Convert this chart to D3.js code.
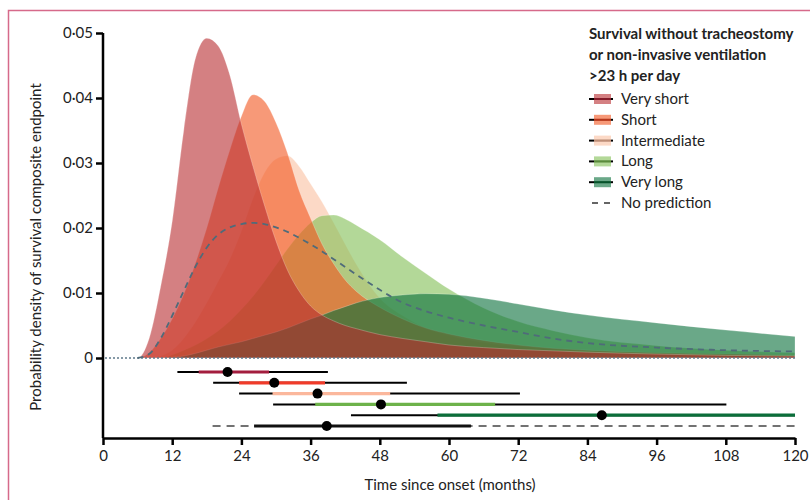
<!DOCTYPE html>
<html>
<head>
<meta charset="utf-8">
<script src="https://cdn.jsdelivr.net/npm/d3@7"></script>
<style>
  body { margin: 0; background: #fff; }
  text { font-family: Lato, "Open Sans", sans-serif; fill: #222; }
</style>
</head>
<body>
<div id="chart"></div>
<script>
var months = [0, 6, 8, 10, 12, 14, 16, 18, 20, 22, 24, 26, 28, 30, 32, 34, 36, 38, 40, 42, 44, 48, 52, 56, 60, 66, 72, 78, 84, 96, 108, 120];

var veryShort = [0, 0, 0.003, 0.011, 0.021, 0.035, 0.046, 0.0492, 0.048, 0.0435, 0.036, 0.0295, 0.0235, 0.018, 0.0135, 0.0103, 0.008, 0.0066, 0.0057, 0.005, 0.0045, 0.0036, 0.003, 0.0025, 0.002, 0.0016, 0.0013, 0.0011, 0.0009, 0.0006, 0.0004, 0.0003];
var short = [0, 0, 0.0008, 0.003, 0.006, 0.0098, 0.0145, 0.02, 0.0262, 0.032, 0.0372, 0.0405, 0.0395, 0.0362, 0.0315, 0.0258, 0.0215, 0.0175, 0.0145, 0.012, 0.0102, 0.0078, 0.006, 0.0046, 0.0037, 0.0027, 0.002, 0.0015, 0.0012, 0.0008, 0.0006, 0.0004];
var intermediate = [0, 0, 0, 0.0003, 0.0012, 0.003, 0.0055, 0.0085, 0.0118, 0.0152, 0.0195, 0.0245, 0.0285, 0.0306, 0.0311, 0.0295, 0.0268, 0.024, 0.0208, 0.0175, 0.0143, 0.0092, 0.0065, 0.0046, 0.0035, 0.0024, 0.0018, 0.0014, 0.0011, 0.0008, 0.0006, 0.0005];
var long = [0, 0, 0, 0, 0.0005, 0.0012, 0.002, 0.003, 0.0042, 0.0057, 0.0075, 0.0095, 0.0118, 0.0143, 0.0168, 0.019, 0.0208, 0.0219, 0.022, 0.0214, 0.0204, 0.0182, 0.0155, 0.013, 0.0106, 0.0077, 0.0056, 0.0042, 0.0031, 0.0019, 0.0012, 0.0008];
var veryLong = [0, 0, 0, 0, 0.0001, 0.0003, 0.0007, 0.0012, 0.0017, 0.0021, 0.0025, 0.003, 0.0035, 0.004, 0.0046, 0.0053, 0.006, 0.0066, 0.0073, 0.0079, 0.0085, 0.0093, 0.0097, 0.0099, 0.0098, 0.0092, 0.0083, 0.0074, 0.0066, 0.0054, 0.0043, 0.0033];
var noPrediction = [0, 0, 0.0006, 0.003, 0.0065, 0.0103, 0.014, 0.017, 0.019, 0.0201, 0.0206, 0.0208, 0.0206, 0.0201, 0.0194, 0.0185, 0.0175, 0.0164, 0.0152, 0.014, 0.0128, 0.0105, 0.0085, 0.0072, 0.0062, 0.005, 0.004, 0.003, 0.0023, 0.0016, 0.0012, 0.001];

// interval rows under the densities (months)
var groups = ["Very short", "Short", "Intermediate", "Long", "Very long", "No prediction"];
var outerLow = [12.9, 19.1, 23.6, 29.5, 43.0, 19.0];
var outerHigh = [39.0, 52.7, 72.3, 108.1, 120, 120];
var innerLow = [16.6, 23.6, 29.4, 36.8, 58.0, 26.2];
var innerHigh = [28.8, 38.5, 49.8, 68.0, 120, 63.8];
var medians = [21.6, 29.7, 37.2, 48.2, 86.5, 38.8];

var xTicks = [0, 12, 24, 36, 48, 60, 72, 84, 96, 108, 120];
var yTicks = [0, 0.01, 0.02, 0.03, 0.04, 0.05];

var legendTitle = ["Survival without tracheostomy", "or non-invasive ventilation", ">23 h per day"];

var fills = ["#b72b2f", "#f2551e", "#fac0a0", "#80be53", "#076e39"];
var barColors = ["#a31d3e", "#f03b2a", "#fbb79c", "#6db24a", "#0b6e3a", "#111"];
var densities = [veryShort, short, intermediate, long, veryLong];
// stacking order of the filled densities, bottom to top
var drawOrder = [2, 3, 1, 4, 0];

var width = 810, height = 500;

var svg = d3.select("#chart").append("svg")
    .attr("width", width)
    .attr("height", height);

// panel frame
svg.append("path")
    .attr("d", "M8.5," + height + "V10.5H" + width)
    .attr("fill", "none")
    .attr("stroke", "#d66a8a")
    .attr("stroke-width", 1.5);

var x = d3.scaleLinear().domain([0, 120]).range([103, 795]);
var y = d3.scaleLinear().domain([0, 0.05]).range([358, 33]);
var rowY = d3.scalePoint().domain(groups).range([372, 426]);

var area = d3.area()
    .x((d, i) => x(months[i]))
    .y0(y(0))
    .y1(d => y(d))
    .curve(d3.curveMonotoneX);

svg.selectAll(".density")
    .data(drawOrder)
    .enter().append("path")
    .attr("class", "density")
    .attr("d", k => area(densities[k]))
    .style("fill", k => fills[k])
    .style("fill-opacity", 0.6)
    .style("stroke", "#fff")
    .style("stroke-opacity", 0.35)
    .style("stroke-width", 0.7);

// zero baseline
svg.append("line")
    .attr("x1", x(0) + 2).attr("x2", x(120))
    .attr("y1", y(0)).attr("y2", y(0))
    .style("stroke", "#5f7a8a")
    .style("stroke-width", 1.5)
    .style("stroke-dasharray", "2,2");

// no-prediction density, dashed
var line = d3.line()
    .x(d => x(d[0]))
    .y(d => y(d[1]))
    .curve(d3.curveMonotoneX);

var npPoints = months.map((m, i) => [m, noPrediction[i]]).filter(d => d[0] >= 6);
svg.append("path")
    .attr("d", line(npPoints))
    .style("fill", "none")
    .style("stroke", "#4f6b7a")
    .style("stroke-width", 1.8)
    .style("stroke-dasharray", "6,5");

// interval rows
groups.forEach(function(g, i) {
    var ry = rowY(g);
    if (i < 5) {
        svg.append("line")
            .attr("x1", x(outerLow[i])).attr("x2", x(outerHigh[i]))
            .attr("y1", ry).attr("y2", ry)
            .style("stroke", "#000")
            .style("stroke-width", 2);
        svg.append("line")
            .attr("x1", x(innerLow[i])).attr("x2", x(innerHigh[i]))
            .attr("y1", ry).attr("y2", ry)
            .style("stroke", barColors[i])
            .style("stroke-width", 3.2);
    } else {
        svg.append("line")
            .attr("x1", x(outerLow[i])).attr("x2", x(outerHigh[i]))
            .attr("y1", ry).attr("y2", ry)
            .style("stroke", "#444")
            .style("stroke-width", 1.5)
            .style("stroke-dasharray", "8,6");
        svg.append("line")
            .attr("x1", x(innerLow[i])).attr("x2", x(innerHigh[i]))
            .attr("y1", ry).attr("y2", ry)
            .style("stroke", barColors[i])
            .style("stroke-width", 3);
    }
    svg.append("circle")
        .attr("cx", x(medians[i]))
        .attr("cy", ry)
        .attr("r", 5)
        .style("fill", "#000");
});

// axes
var yAxis = svg.append("g")
    .attr("transform", "translate(" + x(0) + ",0)")
    .call(d3.axisLeft(y).tickValues(yTicks).tickSize(7).tickSizeOuter(0)
        .tickFormat(d => d === 0 ? "0" : d3.format(".2f")(d).replace(".", "·")));
yAxis.select(".domain").attr("d", "M0," + y(0.05) + "V438");

var xAxis = svg.append("g")
    .attr("transform", "translate(0,438)")
    .call(d3.axisBottom(x).tickValues(xTicks).tickSize(7).tickSizeOuter(0));

[yAxis, xAxis].forEach(function(ax) {
    ax.select(".domain").style("stroke", "#000").style("stroke-width", 2.5);
    ax.selectAll(".tick line").style("stroke", "#000").style("stroke-width", 2.5);
    ax.selectAll(".tick text")
        .style("font-family", "Lato, 'Open Sans', sans-serif")
        .style("font-size", "15px")
        .style("fill", "#222");
});
yAxis.selectAll(".tick text").attr("x", -10);
xAxis.selectAll(".tick text").attr("y", 12);

svg.append("text")
    .attr("x", 450)
    .attr("y", 490)
    .attr("text-anchor", "middle")
    .style("font-size", "15px")
    .text("Time since onset (months)");

svg.append("text")
    .attr("transform", "translate(41,247) rotate(-90)")
    .attr("text-anchor", "middle")
    .style("font-size", "15px")
    .text("Probability density of survival composite endpoint");

// legend
var legend = svg.append("g");
legendTitle.forEach(function(t, i) {
    legend.append("text")
        .attr("x", 589)
        .attr("y", 39 + i * 21)
        .style("font-size", "15px")
        .style("font-weight", "bold")
        .text(t);
});

groups.forEach(function(g, i) {
    var ly = 99 + i * 20.8;
    if (i < 5) {
        legend.append("line")
            .attr("x1", 589).attr("x2", 613)
            .attr("y1", ly).attr("y2", ly)
            .style("stroke", "#000").style("stroke-width", 2);
        legend.append("rect")
            .attr("x", 594).attr("y", ly - 5)
            .attr("width", 17).attr("height", 10)
            .style("fill", fills[i])
            .style("fill-opacity", 0.6);
        legend.append("line")
            .attr("x1", 594).attr("x2", 611)
            .attr("y1", ly).attr("y2", ly)
            .style("stroke", barColors[i])
            .style("stroke-opacity", 0.4)
            .style("stroke-width", 2);
    } else {
        legend.append("line")
            .attr("x1", 592).attr("x2", 613)
            .attr("y1", ly).attr("y2", ly)
            .style("stroke", "#333").style("stroke-width", 1.5)
            .style("stroke-dasharray", "6,6");
    }
    legend.append("text")
        .attr("x", 621)
        .attr("y", ly + 5)
        .style("font-size", "15px")
        .text(g);
});
</script>
</body>
</html>
